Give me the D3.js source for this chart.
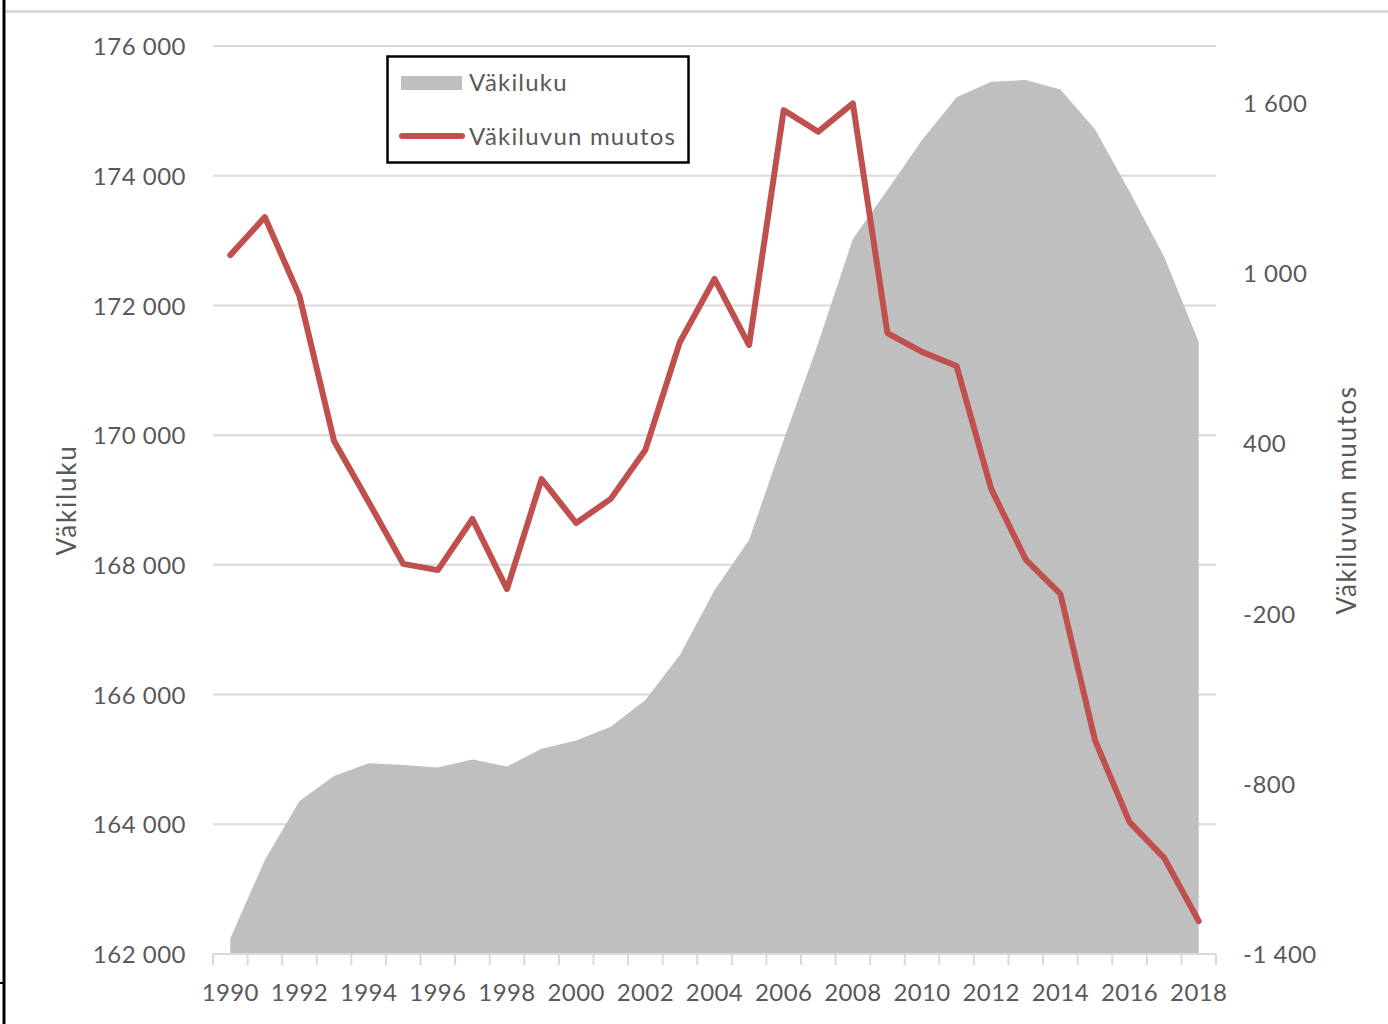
<!DOCTYPE html>
<html>
<head>
<meta charset="utf-8">
<script src="https://cdn.jsdelivr.net/npm/d3@7"></script>
<style>
  html, body { margin: 0; padding: 0; background: #fff; }
  svg { display: block; }
  text { font-family: Lato, "Open Sans", sans-serif; fill: #595959; }
</style>
</head>
<body>
<svg id="chart" width="1388" height="1024"></svg>
<script>
const years = [1990,1991,1992,1993,1994,1995,1996,1997,1998,1999,2000,2001,2002,2003,2004,2005,2006,2007,2008,2009,2010,2011,2012,2013,2014,2015,2016,2017,2018];
const population = [162240,163450,164360,164745,164940,164915,164875,165000,164890,165165,165290,165505,165915,166610,167610,168385,169925,171420,173025,173780,174550,175210,175450,175475,175330,174715,173755,172750,171440];
const change = [1063,1197,919,408,193,-25,-47,133,-114,274,119,204,376,757,979,746,1574,1498,1598,788,722,672,239,-10,-131,-646,-935,-1061,-1284];
const leftTicks = [162000,164000,166000,168000,170000,172000,174000,176000];
const rightTicks = [-1400,-800,-200,400,1000,1600];
const xLabelYears = [1990,1992,1994,1996,1998,2000,2002,2004,2006,2008,2010,2012,2014,2016,2018];
const seriesNames = ["Väkiluku", "Väkiluvun muutos"];
const leftTitle = "Väkiluku";
const rightTitle = "Väkiluvun muutos";

const svg = d3.select("#chart");
const plot = {left: 213, right: 1216, top: 46, bottom: 954};

const fmtSp = v => {
  const s = Math.abs(v).toString();
  const t = s.length > 3 ? s.slice(0, s.length - 3) + " " + s.slice(-3) : s;
  return (v < 0 ? "-" : "") + t;
};

const x = d3.scaleBand().domain(years).range([plot.left, plot.right]).padding(0);
const xc = d => x(d) + x.bandwidth() / 2;
const yL = d3.scaleLinear().domain([162000, 176000]).range([plot.bottom, plot.top]);
const yR = d3.scaleLinear().domain([-1400, 1800]).range([plot.bottom, plot.top]);

// outer frame pieces
svg.append("line").attr("x1", 6).attr("x2", 1388).attr("y1", 11.5).attr("y2", 11.5)
  .attr("stroke", "#d9d9d9").attr("stroke-width", 3);
svg.append("line").attr("x1", 4).attr("x2", 4).attr("y1", 0).attr("y2", 1024)
  .attr("stroke", "#000").attr("stroke-width", 3);
svg.append("line").attr("x1", 0).attr("x2", 4).attr("y1", 983).attr("y2", 983)
  .attr("stroke", "#000").attr("stroke-width", 2);

// gridlines
svg.append("g").selectAll("line").data(leftTicks.filter(t => t !== 162000)).join("line")
  .attr("x1", plot.left).attr("x2", plot.right)
  .attr("y1", d => yL(d)).attr("y2", d => yL(d))
  .attr("stroke", "#d9d9d9").attr("stroke-width", 2);

// area
const area = d3.area().x((d, i) => xc(years[i])).y0(yL(162000)).y1(d => yL(d));
svg.append("path").datum(population).attr("d", area).attr("fill", "#bfbfbf");

// x axis
const xAxis = d3.axisBottom(x).tickValues(years).tickSize(0).tickFormat("");
const gx = svg.append("g").attr("transform", `translate(0,${plot.bottom})`).call(xAxis);
gx.select(".domain").remove();
svg.append("line").attr("x1", plot.left).attr("x2", plot.right).attr("y1", plot.bottom).attr("y2", plot.bottom)
  .attr("stroke", "#d9d9d9").attr("stroke-width", 2);
const bounds = years.map(y => x(y)).concat([plot.right]);
svg.append("g").selectAll("line").data(bounds).join("line")
  .attr("x1", d => d).attr("x2", d => d).attr("y1", plot.bottom).attr("y2", plot.bottom + 11)
  .attr("stroke", "#d9d9d9").attr("stroke-width", 2);
svg.append("g").selectAll("text").data(xLabelYears).join("text")
  .attr("x", d => xc(d)).attr("y", 1001).attr("text-anchor", "middle")
  .attr("font-size", 24).attr("letter-spacing", 0.4).text(d => d);

// left axis labels
const yAxisL = d3.axisLeft(yL).tickValues(leftTicks).tickSize(0).tickFormat(fmtSp);
const gl = svg.append("g").attr("transform", `translate(186,0)`).call(yAxisL);
gl.select(".domain").remove();
gl.selectAll("text").attr("font-size", 24).attr("letter-spacing", 0.5).attr("dy", "0.36em").attr("x", 0)
  .style("font-family", "Lato, sans-serif").attr("fill", "#595959");

// right axis labels
const yAxisR = d3.axisRight(yR).tickValues(rightTicks).tickSize(0).tickFormat(fmtSp);
const gr = svg.append("g").attr("transform", `translate(1243,0)`).call(yAxisR);
gr.select(".domain").remove();
gr.selectAll("text").attr("font-size", 24).attr("letter-spacing", 0.5).attr("dy", "0.36em").attr("x", 0)
  .style("font-family", "Lato, sans-serif").attr("fill", "#595959");

// line
const line = d3.line().x((d, i) => xc(years[i])).y(d => yR(d));
svg.append("path").datum(change).attr("d", line).attr("fill", "none")
  .attr("stroke", "#c0504d").attr("stroke-width", 6).attr("stroke-linejoin", "round").attr("stroke-linecap", "round");

// axis titles
svg.append("text").attr("transform", "translate(76,500) rotate(-90)").attr("text-anchor", "middle")
  .attr("font-size", 26).attr("letter-spacing", 1.8).text(leftTitle);
svg.append("text").attr("transform", "translate(1356,500) rotate(-90)").attr("text-anchor", "middle")
  .attr("font-size", 26).attr("letter-spacing", 1.6).text(rightTitle);

// legend
const lg = svg.append("g");
lg.append("rect").attr("x", 387.5).attr("y", 56.5).attr("width", 301).attr("height", 106)
  .attr("fill", "#fff").attr("stroke", "#000").attr("stroke-width", 2.5);
lg.append("rect").attr("x", 401).attr("y", 76).attr("width", 61).attr("height", 14).attr("fill", "#bfbfbf");
lg.append("text").attr("x", 469).attr("y", 91).attr("font-size", 24).attr("letter-spacing", 1.2).text(seriesNames[0]);
lg.append("line").attr("x1", 402).attr("x2", 462).attr("y1", 136).attr("y2", 136)
  .attr("stroke", "#c0504d").attr("stroke-width", 6).attr("stroke-linecap", "round");
lg.append("text").attr("x", 469).attr("y", 145).attr("font-size", 24).attr("letter-spacing", 1.2).text(seriesNames[1]);
</script>
</body>
</html>
